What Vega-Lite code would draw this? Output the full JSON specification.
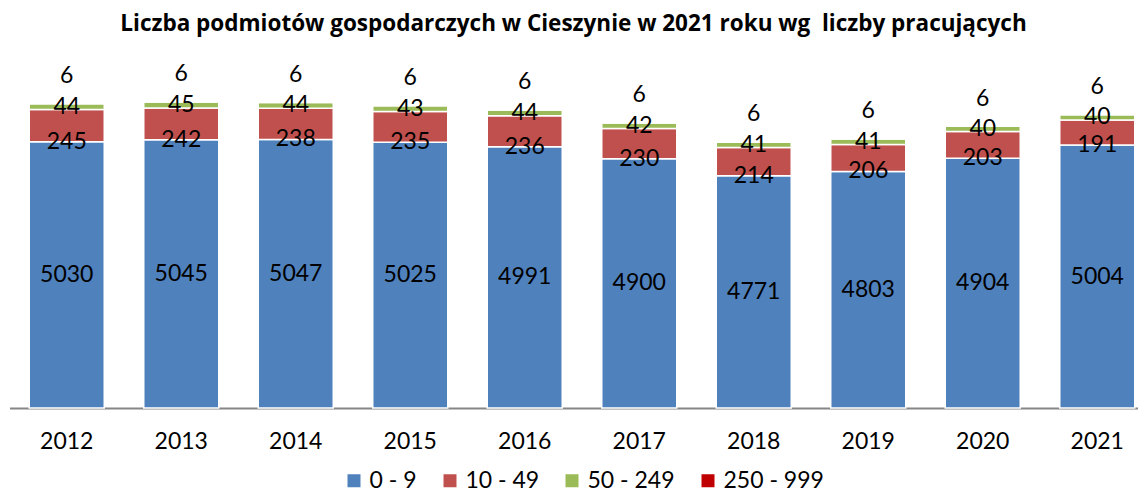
{
  "$schema": "https://vega.github.io/schema/vega-lite/v6.json",
  "width": 1128,
  "height": 328,
  "autosize": {"type": "none"},
  "padding": {"left": 9.5, "top": 80, "right": 0.5, "bottom": 80},
  "background": "white",
  "config": {"view": {"stroke": null}, "font": "Lato"},
  "title": {
    "text": "Liczba podmiotów gospodarczych w Cieszynie w 2021 roku wg \u00a0liczby pracujących",
    "font": "Open Sans",
    "fontSize": 22.5,
    "fontWeight": "bold",
    "color": "black",
    "anchor": "middle",
    "offset": 28
  },
  "data": {
    "values": [
      {"year": "2012", "group": "0 - 9", "order": 1, "value": 5030},
      {"year": "2012", "group": "10 - 49", "order": 2, "value": 245},
      {"year": "2012", "group": "50 - 249", "order": 3, "value": 44},
      {"year": "2012", "group": "250 - 999", "order": 4, "value": 6},
      {"year": "2013", "group": "0 - 9", "order": 1, "value": 5045},
      {"year": "2013", "group": "10 - 49", "order": 2, "value": 242},
      {"year": "2013", "group": "50 - 249", "order": 3, "value": 45},
      {"year": "2013", "group": "250 - 999", "order": 4, "value": 6},
      {"year": "2014", "group": "0 - 9", "order": 1, "value": 5047},
      {"year": "2014", "group": "10 - 49", "order": 2, "value": 238},
      {"year": "2014", "group": "50 - 249", "order": 3, "value": 44},
      {"year": "2014", "group": "250 - 999", "order": 4, "value": 6},
      {"year": "2015", "group": "0 - 9", "order": 1, "value": 5025},
      {"year": "2015", "group": "10 - 49", "order": 2, "value": 235},
      {"year": "2015", "group": "50 - 249", "order": 3, "value": 43},
      {"year": "2015", "group": "250 - 999", "order": 4, "value": 6},
      {"year": "2016", "group": "0 - 9", "order": 1, "value": 4991},
      {"year": "2016", "group": "10 - 49", "order": 2, "value": 236},
      {"year": "2016", "group": "50 - 249", "order": 3, "value": 44},
      {"year": "2016", "group": "250 - 999", "order": 4, "value": 6},
      {"year": "2017", "group": "0 - 9", "order": 1, "value": 4900},
      {"year": "2017", "group": "10 - 49", "order": 2, "value": 230},
      {"year": "2017", "group": "50 - 249", "order": 3, "value": 42},
      {"year": "2017", "group": "250 - 999", "order": 4, "value": 6},
      {"year": "2018", "group": "0 - 9", "order": 1, "value": 4771},
      {"year": "2018", "group": "10 - 49", "order": 2, "value": 214},
      {"year": "2018", "group": "50 - 249", "order": 3, "value": 41},
      {"year": "2018", "group": "250 - 999", "order": 4, "value": 6},
      {"year": "2019", "group": "0 - 9", "order": 1, "value": 4803},
      {"year": "2019", "group": "10 - 49", "order": 2, "value": 206},
      {"year": "2019", "group": "50 - 249", "order": 3, "value": 41},
      {"year": "2019", "group": "250 - 999", "order": 4, "value": 6},
      {"year": "2020", "group": "0 - 9", "order": 1, "value": 4904},
      {"year": "2020", "group": "10 - 49", "order": 2, "value": 203},
      {"year": "2020", "group": "50 - 249", "order": 3, "value": 40},
      {"year": "2020", "group": "250 - 999", "order": 4, "value": 6},
      {"year": "2021", "group": "0 - 9", "order": 1, "value": 5004},
      {"year": "2021", "group": "10 - 49", "order": 2, "value": 191},
      {"year": "2021", "group": "50 - 249", "order": 3, "value": 40},
      {"year": "2021", "group": "250 - 999", "order": 4, "value": 6}
    ]
  },
  "transform": [
    {"stack": "value", "groupby": ["year"], "sort": [{"field": "order", "order": "ascending"}], "as": ["v0", "v1"]},
    {"calculate": "(max(datum.v0, 3000) + datum.v1) / 2", "as": "mid"}
  ],
  "encoding": {
    "x": {
      "field": "year",
      "type": "ordinal",
      "title": null,
      "scale": {"range": [0, 1145], "paddingInner": 0.345, "paddingOuter": 0.1725},
      "axis": {
        "domainColor": "#868686",
        "domainWidth": 2,
        "ticks": false,
        "grid": false,
        "labelAngle": 0,
        "labelFont": "Lato",
        "labelFontSize": 23,
        "labelColor": "black",
        "labelPadding": 22
      }
    }
  },
  "layer": [
    {
      "mark": {"type": "bar", "stroke": "white", "strokeWidth": 1.5},
      "encoding": {
        "y": {"field": "v0", "type": "quantitative", "scale": {"domain": [3000, 5500], "clamp": true}, "axis": null},
        "y2": {"field": "v1"},
        "color": {
          "field": "group",
          "type": "nominal",
          "scale": {
            "domain": ["0 - 9", "10 - 49", "50 - 249", "250 - 999"],
            "range": ["#4F81BD", "#C0504D", "#9BBB59", "#C00000"]
          },
          "legend": {
            "orient": "none",
            "legendX": 333,
            "legendY": 389,
            "direction": "horizontal",
            "title": null,
            "symbolType": "square",
            "symbolSize": 169,
            "symbolStrokeWidth": 0,
            "labelFont": "Lato",
            "labelFontSize": 23,
            "labelColor": "black",
            "columnPadding": 21
          }
        }
      }
    },
    {
      "transform": [{"filter": "datum.order == 1"}],
      "mark": {"type": "text", "font": "Lato", "fontSize": 23, "color": "black", "baseline": "middle"},
      "encoding": {
        "y": {"field": "mid", "type": "quantitative", "scale": {"domain": [3000, 5500], "clamp": true}, "axis": null},
        "text": {"field": "value", "type": "quantitative", "format": "d"}
      }
    },
    {
      "transform": [{"filter": "datum.order == 2"}],
      "mark": {"type": "text", "font": "Lato", "fontSize": 23, "color": "black", "baseline": "middle"},
      "encoding": {
        "y": {"field": "v0", "type": "quantitative", "scale": {"domain": [3000, 5500], "clamp": true}, "axis": null},
        "text": {"field": "value", "type": "quantitative", "format": "d"}
      }
    },
    {
      "transform": [{"filter": "datum.order == 3"}],
      "mark": {"type": "text", "font": "Lato", "fontSize": 23, "color": "black", "baseline": "middle"},
      "encoding": {
        "y": {"field": "mid", "type": "quantitative", "scale": {"domain": [3000, 5500], "clamp": true}, "axis": null},
        "text": {"field": "value", "type": "quantitative", "format": "d"}
      }
    },
    {
      "transform": [{"filter": "datum.order == 4"}],
      "mark": {"type": "text", "font": "Lato", "fontSize": 23, "color": "black", "baseline": "middle", "dy": -27},
      "encoding": {
        "y": {"field": "v1", "type": "quantitative", "scale": {"domain": [3000, 5500], "clamp": true}, "axis": null},
        "text": {"field": "value", "type": "quantitative", "format": "d"}
      }
    }
  ]
}
